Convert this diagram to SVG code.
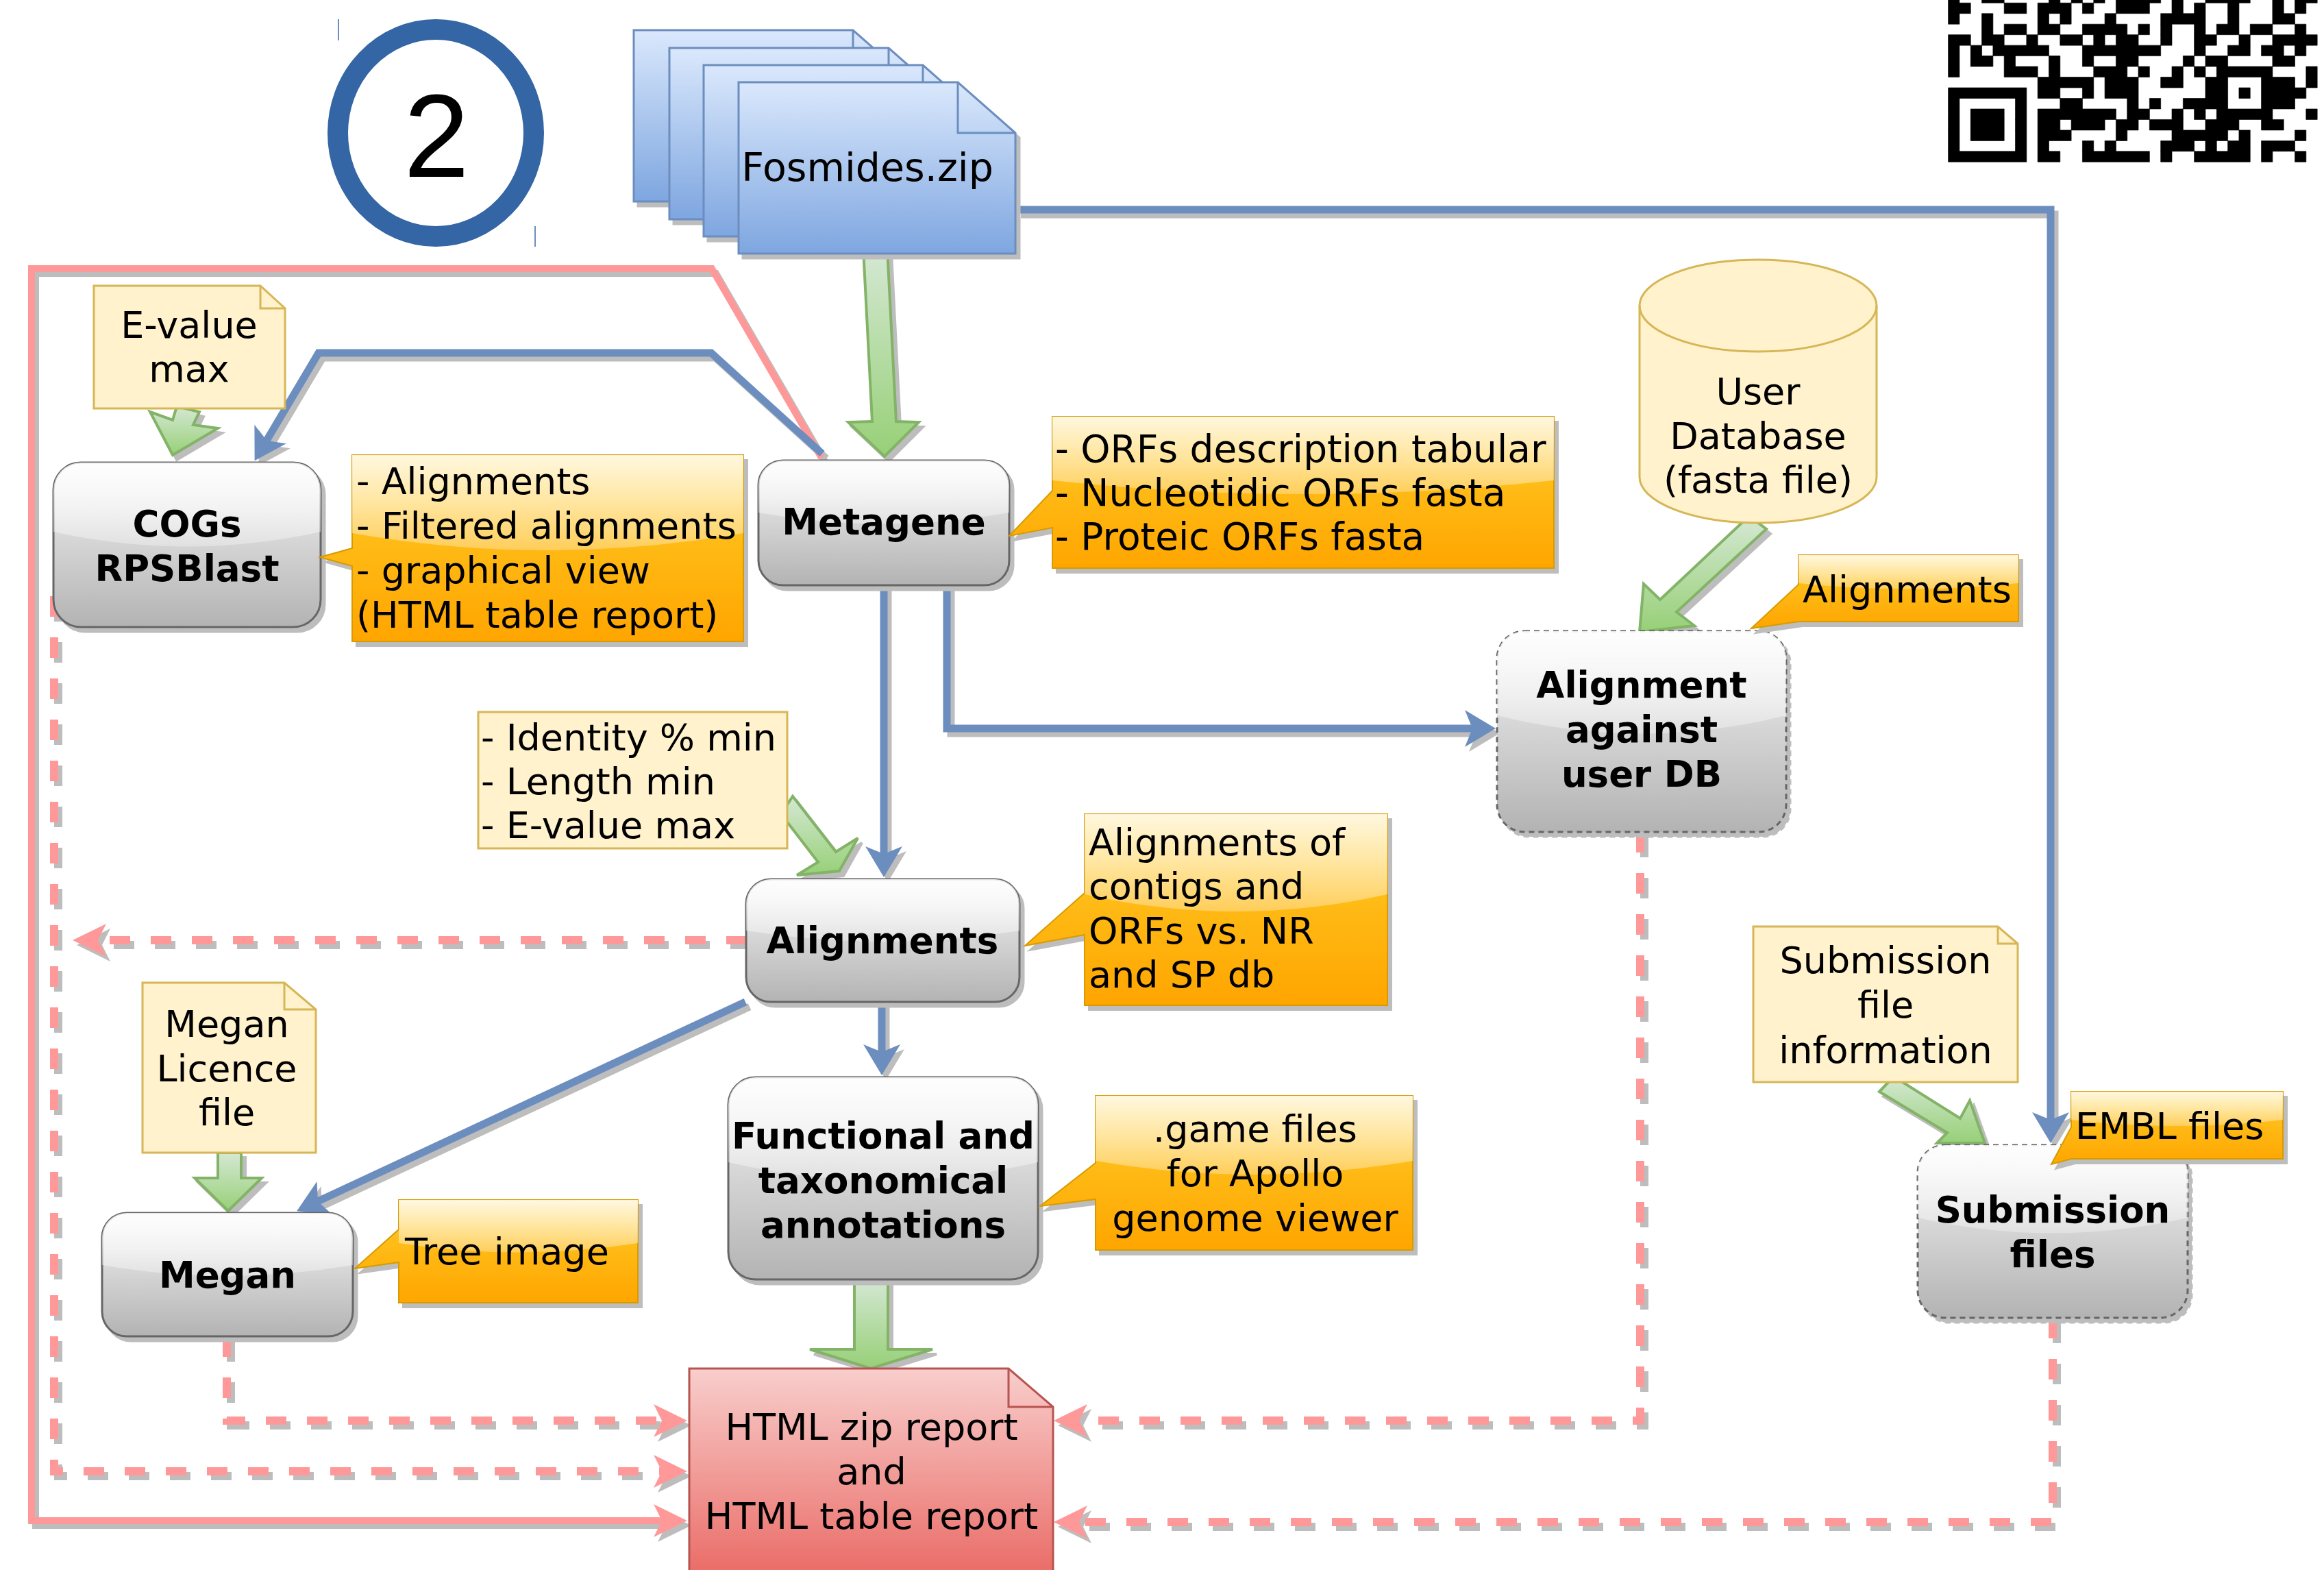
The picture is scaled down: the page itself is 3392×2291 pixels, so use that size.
<svg xmlns="http://www.w3.org/2000/svg" width="3392" height="2291" viewBox="0 0 3392 2291">
<style>
.t{font-family:"DejaVu Sans","Liberation Sans",sans-serif;font-size:54px;fill:#000}
.b{font-family:"DejaVu Sans","Liberation Sans",sans-serif;font-size:53px;font-weight:bold;fill:#000}
.c{text-anchor:middle}
.ps{fill:none;stroke:#ff9999;stroke-width:10}
.pd{fill:none;stroke:#ff9999;stroke-width:12;stroke-dasharray:30 30}
.bl{fill:none;stroke:#6c8ebf;stroke-width:11}
.ga{fill:url(#gGreen);stroke:#82b366;stroke-width:4;stroke-linejoin:miter}
.node{fill:url(#gNode);stroke:#666;stroke-width:3}
.nodeD{fill:url(#gNode);stroke:#666;stroke-width:3;stroke-dasharray:8 6}
.glass{fill:url(#gGlass)}
.call{fill:url(#gOrange);stroke:#d79b00;stroke-width:2}
.glassO{fill:url(#gGlassO)}
.note{fill:#fff2cc;stroke:#d6b656;stroke-width:3}
.fold{fill:none;stroke:#d6b656;stroke-width:3}
.doc{fill:url(#gBlue);stroke:#6c8ebf;stroke-width:3}
.docf{fill:none;stroke:#6c8ebf;stroke-width:3}
</style>
<defs>
<linearGradient id="gNode" x1="0" y1="0" x2="0" y2="1"><stop offset="0" stop-color="#f5f5f5"/><stop offset="1" stop-color="#b3b3b3"/></linearGradient>
<linearGradient id="gGlass" x1="0" y1="0" x2="0" y2="1"><stop offset="0" stop-color="#fff" stop-opacity="0.85"/><stop offset="1" stop-color="#fff" stop-opacity="0.3"/></linearGradient>
<linearGradient id="gGlassO" x1="0" y1="0" x2="0" y2="1"><stop offset="0" stop-color="#fff" stop-opacity="0.85"/><stop offset="1" stop-color="#fff" stop-opacity="0.3"/></linearGradient>
<linearGradient id="gOrange" x1="0" y1="0" x2="0" y2="1"><stop offset="0" stop-color="#ffcd28"/><stop offset="1" stop-color="#ffa500"/></linearGradient>
<linearGradient id="gBlue" x1="0" y1="0" x2="0" y2="1"><stop offset="0" stop-color="#dae8fc"/><stop offset="1" stop-color="#7ea6e0"/></linearGradient>
<linearGradient id="gRed" x1="0" y1="0" x2="0" y2="1"><stop offset="0" stop-color="#f8cecc"/><stop offset="1" stop-color="#ea6b66"/></linearGradient>
<linearGradient id="gGreen" x1="0" y1="0" x2="0" y2="1"><stop offset="0" stop-color="#d5e8d4"/><stop offset="1" stop-color="#97d077"/></linearGradient>
<filter id="sh" filterUnits="userSpaceOnUse" x="-50" y="-50" width="3500" height="2400" color-interpolation-filters="sRGB">
<feColorMatrix in="SourceAlpha" type="matrix" values="0 0 0 0 0.74 0 0 0 0 0.74 0 0 0 0 0.74 0 0 0 1 0" result="g"/>
<feOffset in="g" dx="6" dy="7" result="o"/>
<feMerge><feMergeNode in="o"/><feMergeNode in="SourceGraphic"/></feMerge>
</filter>
<marker id="ab" markerUnits="userSpaceOnUse" markerWidth="46" markerHeight="56" refX="11" refY="27" orient="auto" overflow="visible"><path d="M0,0 L45,27 L0,54 L11,27 Z" fill="#6c8ebf"/></marker>
<marker id="ap" markerUnits="userSpaceOnUse" markerWidth="50" markerHeight="50" refX="12" refY="24" orient="auto" overflow="visible"><path d="M0,0 L49,24 L0,48 L12,24 Z" fill="#ff9999"/></marker>
</defs>

<g id="connectors" filter="url(#sh)">
<path class="ps" d="M1199,668 L1039,392 H46 V2219 H966" marker-end="url(#ap)"/>
<path class="pd" d="M1090,1372 H143" marker-end="url(#ap)"/>
<path class="pd" d="M79,870 V2147 H966" marker-end="url(#ap)"/>
<path class="pd" d="M331,1950 V2073 H966" marker-end="url(#ap)"/>
<path class="pd" d="M2394,1214 V2073 H1575" marker-end="url(#ap)"/>
<path class="pd" d="M2996,1923 V2221 H1575" marker-end="url(#ap)"/>
<path class="bl" d="M1484,306 H2993 V1634" marker-end="url(#ab)"/>
<path class="bl" d="M1200,662 L1038,515 H465 L389,643" marker-end="url(#ab)"/>
<path class="bl" d="M1290,854 V1246" marker-end="url(#ab)"/>
<path class="bl" d="M1382,854 V1063 H2149" marker-end="url(#ab)"/>
<path class="bl" d="M1287,1461 V1535" marker-end="url(#ab)"/>
<path class="bl" d="M1088,1462 L464,1753" marker-end="url(#ab)"/>
<polygon class="ga" points="1260,363 1295,363 1308,615 1341,616 1291,666 1238,616 1273,615"/>
<polygon class="ga" points="258,593 291,601 282,620 318,625 252,664 219,601 252,613"/>
<polygon class="ga" points="1157,1162 1220,1243 1252,1223 1225,1271 1163,1277 1194,1258 1140,1188"/>
<polygon class="ga" points="2553,753 2578,772 2447,893 2473,913 2393,922 2399,852 2423,875"/>
<polygon class="ga" points="2743,1593 2764,1571 2861,1632 2875,1606 2897,1668 2827,1668 2842,1653"/>
<polygon class="ga" points="1247,1866 1296,1866 1296,1969 1361,1969 1271,1997 1182,1969 1247,1969"/>
<polygon class="ga" points="318,1682 352,1682 352,1719 382,1719 333,1767 284,1719 318,1719"/>
</g>

<g id="n-circle">
<ellipse cx="636" cy="194" rx="143" ry="151" fill="none" stroke="#3465a4" stroke-width="30"/>
<line x1="494" y1="28" x2="494" y2="59" stroke="#6c8ebf" stroke-width="2"/>
<line x1="781" y1="330" x2="781" y2="360" stroke="#6c8ebf" stroke-width="2"/>
<text x="637" y="258" font-family="Liberation Sans, Arial, sans-serif" font-size="172" text-anchor="middle">2</text>
</g>

<g id="n-fosmides">
<g filter="url(#sh)">
<path class="doc" d="M925,44 H1245 L1329,118 V294 H925 Z"/>
<path class="docf" d="M1245,44 V118 H1329"/>
<path class="doc" d="M977,70 H1297 L1381,144 V320 H977 Z"/>
<path class="docf" d="M1297,70 V144 H1381"/>
<path class="doc" d="M1027,95 H1347 L1431,169 V345 H1027 Z"/>
<path class="docf" d="M1347,95 V169 H1431"/>
<path class="doc" d="M1078,120 H1398 L1482,194 V370 H1078 Z"/>
</g>
<path class="docf" d="M1398,120 V194 H1482"/>
<text class="t c" x="1266" y="264" style="font-size:57px">Fosmides.zip</text>
</g>

<g id="n-qr">
<path fill="#000" stroke="#000" stroke-width="0.04" transform="translate(2843.6,-11.2) scale(16.32,15.47)" d="M0 0h1v1h-1z M3 0h2v1h-2z M9 0h1v1h-1z M11 0h1v1h-1z M13 0h1v1h-1z M15 0h4v1h-4z M20 0h1v1h-1z M23 0h4v1h-4z M29 0h1v1h-1z M31 0h2v1h-2z
M0 1h2v1h-2z M5 1h2v1h-2z M8 1h3v1h-3z M12 1h1v1h-1z M15 1h3v1h-3z M20 1h1v1h-1z M22 1h1v1h-1z M25 1h1v1h-1z M29 1h1v1h-1z M31 1h1v1h-1z
M0 2h1v1h-1z M3 2h1v1h-1z M8 2h1v1h-1z M10 2h1v1h-1z M14 2h1v1h-1z M19 2h4v1h-4z M25 2h1v1h-1z M29 2h2v1h-2z
M3 3h1v1h-1z M5 3h2v1h-2z M8 3h2v1h-2z M12 3h4v1h-4z M17 3h1v1h-1z M19 3h1v1h-1z M22 3h1v1h-1z M24 3h2v1h-2z M27 3h2v1h-2z M31 3h1v1h-1z
M0 4h2v1h-2z M3 4h2v1h-2z M7 4h1v1h-1z M10 4h2v1h-2z M13 4h1v1h-1z M15 4h2v1h-2z M19 4h1v1h-1z M22 4h2v1h-2z M26 4h1v1h-1z M29 4h4v1h-4z
M0 5h1v1h-1z M2 5h1v1h-1z M4 5h5v1h-5z M12 5h7v1h-7z M22 5h1v1h-1z M25 5h2v1h-2z M28 5h2v1h-2z M31 5h1v1h-1z
M0 6h1v1h-1z M2 6h2v1h-2z M5 6h1v1h-1z M9 6h1v1h-1z M12 6h1v1h-1z M15 6h2v1h-2z M21 6h1v1h-1z M23 6h2v1h-2z M29 6h2v1h-2z
M0 7h1v1h-1z M5 7h3v1h-3z M9 7h1v1h-1z M13 7h3v1h-3z M17 7h1v1h-1z M20 7h1v1h-1z M22 7h1v1h-1z M24 7h5v1h-5z M32 7h1v1h-1z
M8 8h5v1h-5z M14 8h3v1h-3z M19 8h2v1h-2z M23 8h2v1h-2z M28 8h3v1h-3z M32 8h1v1h-1z
M0 9h7v1h-7z M8 9h2v1h-2z M12 9h1v1h-1z M14 9h3v1h-3z M23 9h2v1h-2z M26 9h1v1h-1z M28 9h4v1h-4z
M0 10h1v1h-1z M6 10h1v1h-1z M10 10h2v1h-2z M16 10h1v1h-1z M18 10h1v1h-1z M21 10h4v1h-4z M28 10h3v1h-3z
M0 11h1v1h-1z M2 11h3v1h-3z M6 11h1v1h-1z M8 11h7v1h-7z M16 11h2v1h-2z M20 11h1v1h-1z M22 11h1v1h-1z M24 11h5v1h-5z M32 11h1v1h-1z
M0 12h1v1h-1z M2 12h3v1h-3z M6 12h1v1h-1z M8 12h2v1h-2z M11 12h3v1h-3z M15 12h2v1h-2z M18 12h3v1h-3z M23 12h3v1h-3z M28 12h2v1h-2z
M0 13h1v1h-1z M2 13h3v1h-3z M6 13h1v1h-1z M8 13h3v1h-3z M15 13h1v1h-1z M20 13h5v1h-5z M26 13h1v1h-1z M31 13h1v1h-1z
M0 14h1v1h-1z M6 14h1v1h-1z M8 14h1v1h-1z M12 14h1v1h-1z M14 14h1v1h-1z M19 14h3v1h-3z M23 14h1v1h-1z M25 14h2v1h-2z M28 14h3v1h-3z
M0 15h7v1h-7z M8 15h2v1h-2z M12 15h6v1h-6z M19 15h1v1h-1z M22 15h5v1h-5z M28 15h1v1h-1z M31 15h1v1h-1z"/>
</g>

<g id="n-evalue">
<path class="note" d="M137,417 H380 L416,450 V596 H137 Z"/>
<path class="fold" d="M380,417 V450 H416"/>
<text class="t c" x="276" y="493">E-value</text>
<text class="t c" x="276" y="557">max</text>
</g>

<g id="n-cogs">
<rect class="node" x="78" y="675" width="390" height="240" rx="40" filter="url(#sh)"/>
<path class="glass" d="M78,715 A40,40 0 0 1 118,675 H428 A40,40 0 0 1 468,715 V776 Q273,819 78,776 Z"/>
<text class="b c" x="273" y="783">COGs</text>
<text class="b c" x="273" y="848">RPSBlast</text>
</g>

<g id="n-cogs-out">
<path class="call" d="M514,664 H1085 V936 H514 V826 L467,813 L514,800 Z" filter="url(#sh)"/>
<path class="glassO" d="M514,664 H1085 V778 Q799,828 514,778 Z"/>
<text class="t" x="520" y="721">- Alignments</text>
<text class="t" x="520" y="786">- Filtered alignments</text>
<text class="t" x="520" y="851">- graphical view</text>
<text class="t" x="520" y="916">(HTML table report)</text>
</g>

<g id="n-metagene">
<rect class="node" x="1107" y="672" width="366" height="182" rx="36" filter="url(#sh)"/>
<path class="glass" d="M1107,708 A36,36 0 0 1 1143,672 H1437 A36,36 0 0 1 1473,708 V748 Q1290,781 1107,748 Z"/>
<text class="b c" x="1290" y="780">Metagene</text>
</g>

<g id="n-metagene-out">
<path class="call" d="M1536,608 H2268 V829 H1536 V770 L1473,782 L1536,716 Z" filter="url(#sh)"/>
<path class="glassO" d="M1536,608 H2268 V701 Q1902,741 1536,701 Z"/>
<text class="t" x="1540" y="674" style="font-size:55px">- ORFs description tabular</text>
<text class="t" x="1540" y="738" style="font-size:55px">- Nucleotidic ORFs fasta</text>
<text class="t" x="1540" y="802" style="font-size:55px">- Proteic ORFs fasta</text>
</g>

<g id="n-userdb">
<path d="M2393,446 A173,67 0 0 1 2739,446 V696 A173,67 0 0 1 2393,696 Z" fill="#fff2cc" stroke="#d6b656" stroke-width="3"/>
<path d="M2393,446 A173,67 0 0 0 2739,446" fill="none" stroke="#d6b656" stroke-width="3"/>
<text class="t c" x="2566" y="590">User</text>
<text class="t c" x="2566" y="655">Database</text>
<text class="t c" x="2566" y="719">(fasta file)</text>
</g>

<g id="n-against">
<rect class="nodeD" x="2185" y="921" width="422" height="293" rx="40" filter="url(#sh)"/>
<path class="glass" d="M2185,961 A40,40 0 0 1 2225,921 H2567 A40,40 0 0 1 2607,961 V1044 Q2396,1097 2185,1044 Z"/>
<text class="b c" x="2396" y="1018">Alignment</text>
<text class="b c" x="2396" y="1083">against</text>
<text class="b c" x="2396" y="1148">user DB</text>
</g>

<g id="n-against-out">
<path class="call" d="M2625,810 H2946 V907 H2625 L2556,917 L2625,853 Z" filter="url(#sh)"/>
<path class="glassO" d="M2625,810 H2946 V851 Q2785,868 2625,851 Z"/>
<text class="t" x="2631" y="879">Alignments</text>
</g>

<g id="n-identity">
<rect class="note" x="698" y="1039" width="451" height="199"/>
<text class="t" x="702" y="1095">- Identity % min</text>
<text class="t" x="702" y="1159">- Length min</text>
<text class="t" x="702" y="1223">- E-value max</text>
</g>

<g id="n-alignments">
<rect class="node" x="1089" y="1283" width="399" height="179" rx="36" filter="url(#sh)"/>
<path class="glass" d="M1089,1319 A36,36 0 0 1 1125,1283 H1452 A36,36 0 0 1 1488,1319 V1358 Q1288,1390 1089,1358 Z"/>
<text class="b c" x="1288" y="1391">Alignments</text>
</g>

<g id="n-alignments-out">
<path class="call" d="M1583,1188 H2025 V1467 H1583 V1364 L1496,1380 L1583,1303 Z" filter="url(#sh)"/>
<path class="glassO" d="M1583,1188 H2025 V1305 Q1804,1355 1583,1305 Z"/>
<text class="t" x="1589" y="1248">Alignments of</text>
<text class="t" x="1589" y="1312">contigs and</text>
<text class="t" x="1589" y="1377">ORFs vs. NR</text>
<text class="t" x="1589" y="1441">and SP db</text>
</g>

<g id="n-megan-licence">
<path class="note" d="M208,1434 H415 L461,1473 V1682 H208 Z"/>
<path class="fold" d="M415,1434 V1473 H461"/>
<text class="t c" x="331" y="1513">Megan</text>
<text class="t c" x="331" y="1578">Licence</text>
<text class="t c" x="331" y="1642">file</text>
</g>

<g id="n-megan">
<rect class="node" x="149" y="1770" width="366" height="180" rx="36" filter="url(#sh)"/>
<path class="glass" d="M149,1806 A36,36 0 0 1 185,1770 H479 A36,36 0 0 1 515,1806 V1846 Q332,1878 149,1846 Z"/>
<text class="b c" x="332" y="1879">Megan</text>
</g>

<g id="n-tree">
<path class="call" d="M582,1751 H931 V1901 H582 V1842 L518,1851 L582,1794 Z" filter="url(#sh)"/>
<path class="glassO" d="M582,1751 H931 V1814 Q756,1841 582,1814 Z"/>
<text class="t" x="591" y="1845">Tree image</text>
</g>

<g id="n-functional">
<rect class="node" x="1063" y="1572" width="452" height="295" rx="40" filter="url(#sh)"/>
<path class="glass" d="M1063,1612 A40,40 0 0 1 1103,1572 H1475 A40,40 0 0 1 1515,1612 V1696 Q1289,1749 1063,1696 Z"/>
<text class="b c" x="1289" y="1676">Functional and</text>
<text class="b c" x="1289" y="1741">taxonomical</text>
<text class="b c" x="1289" y="1806">annotations</text>
</g>

<g id="n-game">
<path class="call" d="M1599,1599 H2062 V1824 H1599 V1750 L1518,1760 L1599,1697 Z" filter="url(#sh)"/>
<path class="glassO" d="M1599,1599 H2062 V1694 Q1830,1734 1599,1694 Z"/>
<text class="t c" x="1832" y="1666">.game files</text>
<text class="t c" x="1832" y="1731">for Apollo</text>
<text class="t c" x="1832" y="1796">genome viewer</text>
</g>

<g id="n-subinfo">
<path class="note" d="M2559,1352 H2916 L2945,1377 V1579 H2559 Z"/>
<path class="fold" d="M2916,1352 V1377 H2945"/>
<text class="t c" x="2752" y="1420">Submission</text>
<text class="t c" x="2752" y="1485">file</text>
<text class="t c" x="2752" y="1551">information</text>
</g>

<g id="n-submission">
<rect class="nodeD" x="2799" y="1671" width="394" height="252" rx="40" filter="url(#sh)"/>
<path class="glass" d="M2799,1711 A40,40 0 0 1 2839,1671 H3153 A40,40 0 0 1 3193,1711 V1777 Q2996,1822 2799,1777 Z"/>
<text class="b c" x="2996" y="1784">Submission</text>
<text class="b c" x="2996" y="1849">files</text>
</g>

<g id="n-embl">
<path class="call" d="M3023,1593 H3332 V1691 H3023 L2994,1699 L3023,1645 Z" filter="url(#sh)"/>
<path class="glassO" d="M3023,1593 H3332 V1634 Q3177,1652 3023,1634 Z"/>
<text class="t" x="3029" y="1662">EMBL files</text>
</g>

<g id="n-html">
<path d="M1006,1997 H1472 L1537,2053 V2300 H1006 Z" fill="url(#gRed)" stroke="#b85450" stroke-width="3"/>
<path d="M1472,1997 V2053 H1537" fill="none" stroke="#b85450" stroke-width="3"/>
<text class="t c" x="1272" y="2101">HTML zip report</text>
<text class="t c" x="1272" y="2166">and</text>
<text class="t c" x="1272" y="2231">HTML table report</text>
</g>
</svg>
